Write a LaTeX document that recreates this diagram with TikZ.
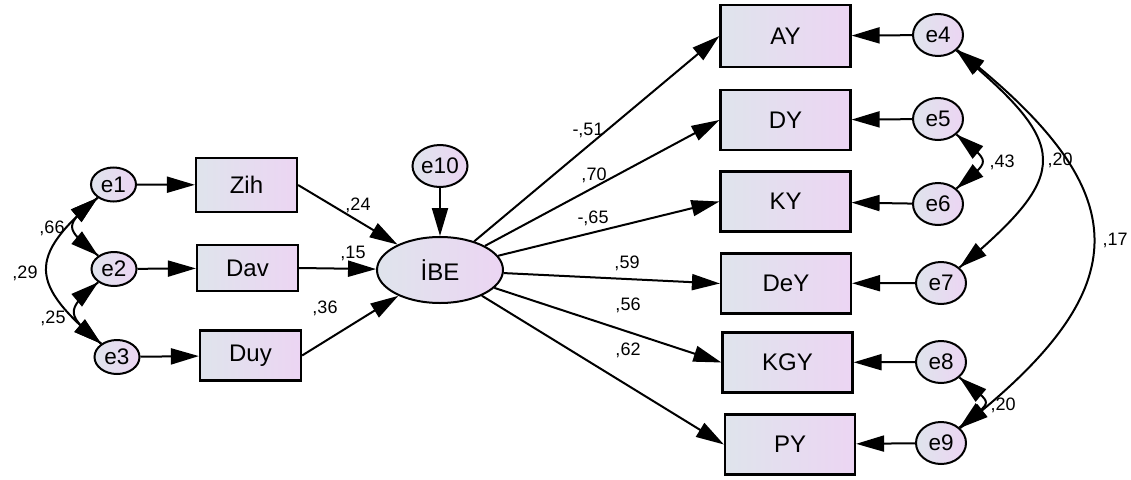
\documentclass[tikz,border=0pt]{standalone}
\usepackage{fontspec}
\setmainfont{Liberation Sans}
\usetikzlibrary{arrows.meta,shapes.geometric,decorations.markings}
\definecolor{gradL}{RGB}{223,228,236}
\definecolor{gradR}{RGB}{236,213,243}
\begin{document}
\begin{tikzpicture}[x=1pt,y=1pt,
  shadefill/.style={left color=gradL, right color=gradR},
  obsbox/.style={rectangle, draw=black, line width=2.2pt, shadefill, inner sep=0pt,
    minimum width=130pt, minimum height=60pt, font=\fontsize{24}{28}\selectfont},
  smallbox/.style={obsbox, minimum width=101pt, minimum height=50pt},
  errnode/.style={ellipse, draw=black, line width=2pt, shadefill, inner sep=0pt,
    minimum width=50pt, minimum height=42pt, font=\fontsize{22.5}{26}\selectfont},
  lefterr/.style={errnode, minimum width=45pt, minimum height=34pt},
  latent/.style={ellipse, draw=black, line width=2pt, shadefill, inner sep=0pt,
    minimum width=126pt, minimum height=66pt, font=\fontsize{24}{28}\selectfont},
  coef/.style={font=\fontsize{18}{21}\selectfont, inner sep=0pt},
  pathline/.style={line width=2pt, -{Triangle[length=28pt,width=16pt]}},
  cov/.style={line width=2pt, postaction={decorate},
    decoration={markings,
      mark=at position 0 with {\arrowreversed{Triangle[length=28pt,width=16pt]}},
      mark=at position 0.999 with {\arrow{Triangle[length=28pt,width=16pt]}}}}
]
\useasboundingbox (0,0) rectangle (1131,-479);
\fill[white] (0,0) rectangle (1131,-479);

% exogenous side
\node[lefterr] (e1) at (113.5,-184.5) {e1};
\node[lefterr] (e2) at (114,-269) {e2};
\node[lefterr] (e3) at (117,-357) {e3};
\node[smallbox, minimum height=54pt] (Zih) at (246.5,-185) {Zih};
\node[smallbox, minimum height=46pt] (Dav) at (247.5,-268) {Dav};
\node[smallbox] (Duy) at (250.5,-355.5) {Duy};

% latent variable
\node[errnode, minimum width=55pt, minimum height=42pt] (e10) at (440,-166) {e10};
\node[latent] (IBE) at (440,-270) {İBE};

% indicators
\node[obsbox, minimum height=62pt] (AY) at (785.5,-36) {AY};
\node[obsbox] (DY) at (785.5,-120) {DY};
\node[obsbox] (KY) at (785.5,-201.5) {KY};
\node[obsbox] (DeY) at (786,-283.5) {DeY};
\node[obsbox] (KGY) at (787.5,-362.5) {KGY};
\node[obsbox] (PY) at (790,-444.5) {PY};

% indicator errors
\node[errnode] (e4) at (938,-35) {e4};
\node[errnode] (e5) at (938,-119) {e5};
\node[errnode] (e6) at (938,-204) {e6};
\node[errnode] (e7) at (941,-283) {e7};
\node[errnode] (e8) at (941,-362) {e8};
\node[errnode] (e9) at (941,-443) {e9};

% error to observed
\draw[pathline] (e1) -- (Zih);
\draw[pathline] (e2) -- (Dav);
\draw[pathline] (e3) -- (Duy);
\draw[pathline] (e4) -- (AY);
\draw[pathline] (e5) -- (DY);
\draw[pathline] (e6) -- (KY);
\draw[pathline] (e7) -- (DeY);
\draw[pathline] (e8) -- (KGY);
\draw[pathline] (e9) -- (PY);

% structural paths
\draw[pathline] (Zih.east) -- (IBE);
\draw[pathline] (Dav.east) -- (IBE);
\draw[pathline] (Duy.east) -- (IBE);
\draw[pathline] (e10) -- (IBE);
\draw[pathline] (IBE) -- (AY.west);
\draw[pathline] (IBE) -- (DY.west);
\draw[pathline] (IBE) -- (KY.west);
\draw[pathline] (IBE) -- (DeY.west);
\draw[pathline] (IBE) -- (KGY.west);
\draw[pathline] (IBE) -- (PY.west);

% covariances (double-headed curves)
\draw[cov] (e1.220) .. controls +(220:45) and +(140:45) .. (e2.140);
\draw[cov] (e2.220) .. controls +(220:45) and +(140:45) .. (e3.140);
\draw[cov] (e1.220) .. controls +(220:93) and +(140:93) .. (e3.140);
\draw[cov] (e5.-40) .. controls +(-40:46) and +(40:46) .. (e6.40);
\draw[cov] (e8.-40) .. controls +(-40:46) and +(40:46) .. (e9.40);
\draw[cov] (e4.-40) .. controls +(-40:148) and +(40:148) .. (e7.40);
\draw[cov] (e4.-38) .. controls +(-38:230) and +(38:230) .. (e9.38);

% coefficients
\node[coef] (c24) at (358,-205) {,24};
\node[coef] (c15) at (353,-253) {,15};
\node[coef] (c36) at (325,-308) {,36};
\node[coef] (c51) at (588,-130) {-,51};
\node[coef] (c70) at (594,-175) {,70};
\node[coef] (c65) at (593,-218) {-,65};
\node[coef] (c59) at (627,-263) {,59};
\node[coef] (c56) at (628,-305) {,56};
\node[coef] (c62) at (628,-350) {,62};
\node[coef] (c66) at (52,-228) {,66};
\node[coef] (c29) at (25,-273) {,29};
\node[coef] (c25) at (53,-318) {,25};
\node[coef] (c43) at (1002,-162) {,43};
\node[coef] (c20a) at (1060,-160) {,20};
\node[coef] (c17) at (1115,-240) {,17};
\node[coef] (c20b) at (1003,-405) {,20};
\end{tikzpicture}
\end{document}
